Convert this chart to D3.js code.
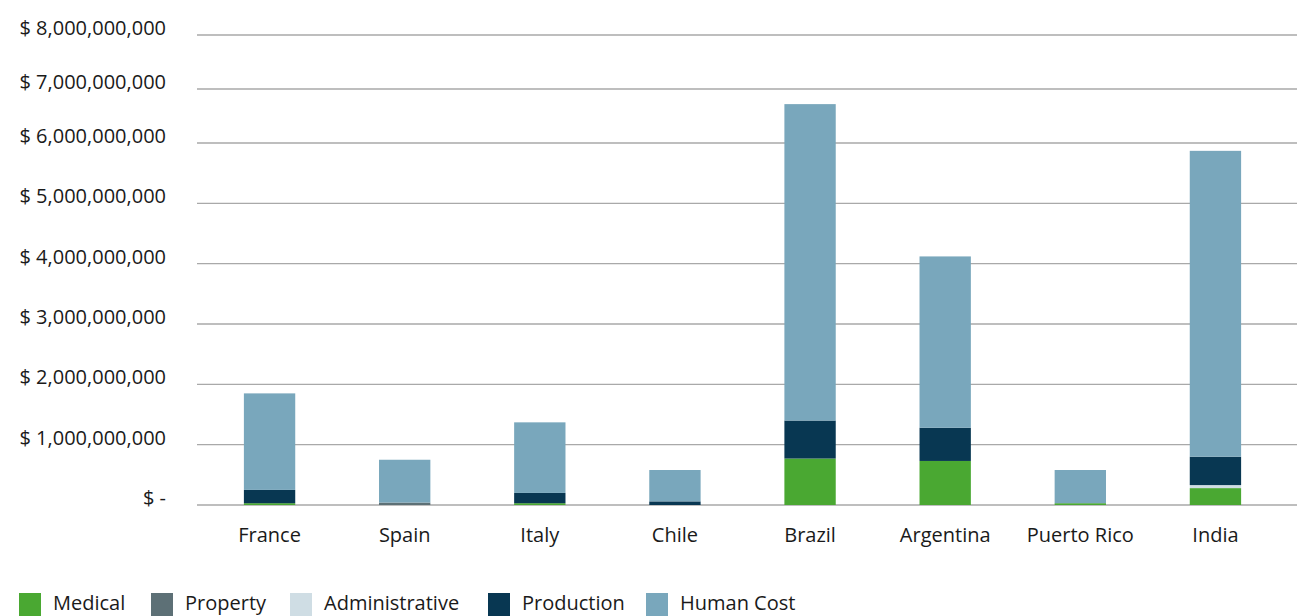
<!DOCTYPE html>
<html>
<head>
<meta charset="utf-8">
<script src="https://cdn.jsdelivr.net/npm/d3@7"></script>
<style>
  html, body { margin: 0; padding: 0; background: #ffffff; }
  svg { display: block; font-family: "Open Sans", "Noto Sans", sans-serif; }
</style>
</head>
<body>
<svg id="chart" width="1297" height="616"></svg>
<script>
// Cost categories per country (USD), stacked bottom to top
const countries = ["France", "Spain", "Italy", "Chile", "Brazil", "Argentina", "Puerto Rico", "India"];
const series = ["Medical", "Property", "Administrative", "Production", "Human Cost"];
const medical        = [0.03e9, 0,      0.03e9, 0,      0.77e9, 0.73e9, 0.03e9, 0.28e9];
const property       = [0,      0.04e9, 0,      0,      0,      0,      0,      0];
const administrative = [0,      0,      0,      0,      0,      0,      0,      0.05e9];
const production     = [0.22e9, 0,      0.17e9, 0.06e9, 0.63e9, 0.55e9, 0,      0.47e9];
const humanCost      = [1.60e9, 0.71e9, 1.17e9, 0.52e9, 5.32e9, 2.84e9, 0.55e9, 5.07e9];
const yTicks = [0, 1e9, 2e9, 3e9, 4e9, 5e9, 6e9, 7e9, 8e9];
const colors = ["#4aa832", "#5d7076", "#cfdde4", "#083752", "#79a7bc"];

const rows = countries.map((c, i) => ({
  country: c,
  "Medical": medical[i],
  "Property": property[i],
  "Administrative": administrative[i],
  "Production": production[i],
  "Human Cost": humanCost[i]
}));

const svg = d3.select("#chart");

const x = d3.scaleBand().domain(countries).range([202, 1283]).paddingInner(0.62).paddingOuter(0.31);
// Upper band of the value axis is slightly compressed
const y = d3.scaleLinear().domain([0, 6e9, 8e9]).range([505, 143, 35]);
const color = d3.scaleOrdinal().domain(series).range(colors);

// Gridlines
svg.append("g")
  .selectAll("line")
  .data(yTicks)
  .join("line")
  .attr("x1", 197).attr("x2", 1297)
  .attr("y1", d => y(d)).attr("y2", d => y(d))
  .attr("stroke", "#a9a9a9")
  .attr("stroke-width", 1.3);

// Y axis labels
const fmt = d => d === 0 ? "$ -" : "$ " + d3.format(",")(d);
const yAxis = svg.append("g")
  .attr("transform", "translate(166,-7)")
  .call(d3.axisLeft(y).tickValues(yTicks).tickFormat(fmt).tickSize(0).tickPadding(0));
yAxis.select(".domain").remove();
yAxis.selectAll("text")
  .attr("font-family", "'Open Sans', 'Noto Sans', sans-serif")
  .attr("font-size", 20)
  .attr("fill", "#1a1a1a");

// Stacked bars
const stacked = d3.stack().keys(series)(rows);
svg.append("g")
  .selectAll("g")
  .data(stacked)
  .join("g")
  .attr("fill", d => color(d.key))
  .selectAll("rect")
  .data(d => d)
  .join("rect")
  .attr("x", d => x(d.data.country))
  .attr("width", x.bandwidth())
  .attr("y", d => y(d[1]))
  .attr("height", d => Math.max(0, y(d[0]) - y(d[1])));

// X axis labels
const xAxis = svg.append("g")
  .attr("transform", "translate(0,505)")
  .call(d3.axisBottom(x).tickSize(0).tickPadding(23));
xAxis.select(".domain").remove();
xAxis.selectAll("text")
  .attr("font-family", "'Open Sans', 'Noto Sans', sans-serif")
  .attr("font-size", 20)
  .attr("fill", "#1a1a1a");

// Legend
const legendX = [19, 151, 290, 488, 646];
const legend = svg.append("g")
  .selectAll("g")
  .data(series)
  .join("g")
  .attr("transform", (d, i) => `translate(${legendX[i]},593)`);
legend.append("rect")
  .attr("width", 22).attr("height", 23)
  .attr("fill", d => color(d));
legend.append("text")
  .attr("x", 34).attr("y", 17)
  .attr("font-size", 20)
  .attr("fill", "#1a1a1a")
  .text(d => d);
</script>
</body>
</html>
